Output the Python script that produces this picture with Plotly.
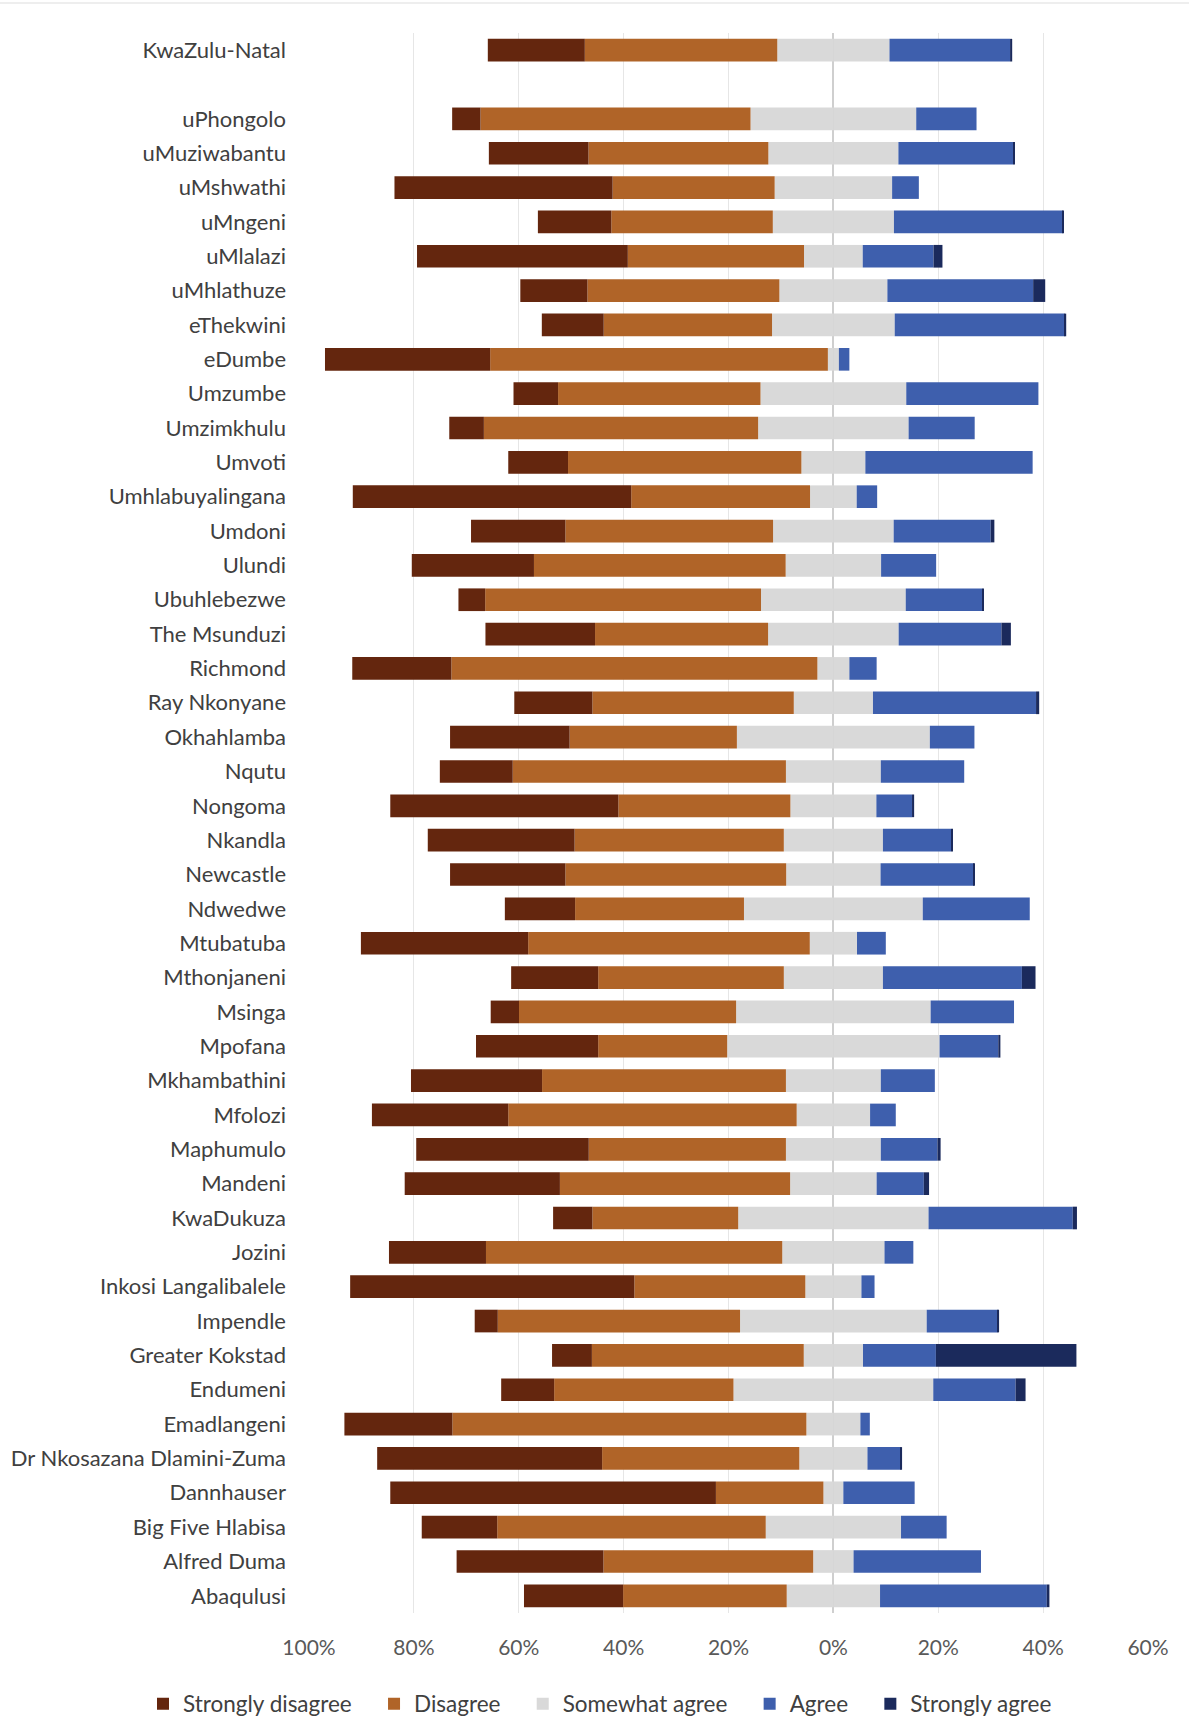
import plotly.graph_objects as go

# Municipalities, listed top to bottom (" " is the spacer row under the provincial total)
areas = [
    "KwaZulu-Natal", " ",
    "uPhongolo", "uMuziwabantu", "uMshwathi", "uMngeni", "uMlalazi", "uMhlathuze",
    "eThekwini", "eDumbe", "Umzumbe", "Umzimkhulu", "Umvoti", "Umhlabuyalingana",
    "Umdoni", "Ulundi", "Ubuhlebezwe", "The Msunduzi", "Richmond", "Ray Nkonyane",
    "Okhahlamba", "Nqutu", "Nongoma", "Nkandla", "Newcastle", "Ndwedwe",
    "Mtubatuba", "Mthonjaneni", "Msinga", "Mpofana", "Mkhambathini", "Mfolozi",
    "Maphumulo", "Mandeni", "KwaDukuza", "Jozini", "Inkosi Langalibalele",
    "Impendle", "Greater Kokstad", "Endumeni", "Emadlangeni",
    "Dr Nkosazana Dlamini-Zuma", "Dannhauser", "Big Five Hlabisa", "Alfred Duma",
    "Abaqulusi",
]

# Response shares (%), same order as areas
strongly_disagree = [
    18.5, None,
    5.4, 19.0, 41.6, 14.0, 40.2, 12.8, 11.8, 31.5, 8.5, 6.6, 11.4, 53.1,
    18.0, 23.3, 5.1, 20.9, 18.9, 14.9, 22.8, 13.9, 43.5, 28.0, 22.0, 13.4,
    31.9, 16.6, 5.4, 23.3, 25.0, 26.0, 32.9, 29.6, 7.5, 18.5, 54.2,
    4.4, 7.6, 10.1, 20.6, 42.9, 62.1, 14.4, 28.0, 18.9,
]
disagree = [
    36.7, None,
    51.5, 34.3, 30.9, 30.8, 33.6, 36.6, 32.1, 64.4, 38.6, 52.3, 44.5, 34.1,
    39.6, 48.0, 52.6, 33.0, 69.8, 38.4, 31.9, 52.1, 32.8, 39.9, 42.1, 32.2,
    53.7, 35.4, 41.4, 24.6, 46.5, 55.0, 37.6, 43.9, 27.8, 56.5, 32.6,
    46.2, 40.4, 34.2, 67.5, 37.6, 20.5, 51.2, 40.0, 31.2,
]
somewhat_agree = [
    21.4, None,
    31.6, 24.8, 22.4, 23.1, 11.2, 20.6, 23.4, 2.1, 27.8, 28.7, 12.2, 8.9,
    23.0, 18.2, 27.6, 24.9, 6.1, 15.1, 36.8, 18.1, 16.4, 18.9, 18.0, 34.1,
    9.0, 18.9, 37.1, 40.5, 18.1, 14.0, 18.1, 16.5, 36.3, 19.5, 10.7,
    35.6, 11.3, 38.1, 10.3, 13.0, 3.8, 25.8, 7.7, 17.8,
]
agree = [
    23.0, None,
    11.5, 21.9, 5.1, 32.2, 13.5, 27.8, 32.4, 2.0, 25.2, 12.6, 31.9, 3.9,
    18.5, 10.5, 14.6, 19.6, 5.2, 31.1, 8.5, 15.9, 6.8, 13.0, 17.8, 20.4,
    5.5, 26.5, 15.9, 11.2, 10.3, 4.9, 10.8, 9.0, 27.5, 5.5, 2.5,
    13.5, 13.9, 15.7, 1.8, 6.3, 13.6, 8.7, 24.3, 31.8,
]
strongly_agree = [
    0.4, None,
    0.0, 0.2, 0.0, 0.1, 1.7, 2.3, 0.3, 0.0, 0.0, 0.0, 0.0, 0.0,
    0.7, 0.0, 0.2, 1.8, 0.0, 0.6, 0.0, 0.0, 0.4, 0.2, 0.2, 0.0,
    0.0, 2.6, 0.0, 0.4, 0.0, 0.0, 0.6, 1.0, 0.8, 0.0, 0.0,
    0.3, 26.8, 1.9, 0.0, 0.3, 0.0, 0.0, 0.0, 0.5,
]

tick_vals = [-100, -80, -60, -40, -20, 0, 20, 40, 60]
tick_text = ["100%", "80%", "60%", "40%", "20%", "0%", "20%", "40%", "60%"]

colors = {
    "sd": "#64260E",
    "d": "#B06428",
    "s": "#D9D9D9",
    "a": "#3E5FAD",
    "sa": "#1B2A5C",
}

# extra room after each legend entry
pad = "\u00a0" * 3

# plot-area geometry in pixels
W, H = 1189, 1717
ML, MR, MT, MB = 309, 41, 33, 104
PW, PH = W - ML - MR, H - MT - MB


def neg(vals):
    return [None if v is None else -v for v in vals]


def half(vals, sign):
    return [None if v is None else sign * v / 2 for v in vals]


fig = go.Figure()

# Left side: half of the neutral share, then disagreement stacked outward from 0
fig.add_trace(go.Bar(y=areas, x=half(somewhat_agree, -1), orientation="h",
                     marker_color=colors["s"], name="Somewhat agree" + pad,
                     legendgroup="s", showlegend=False))
fig.add_trace(go.Bar(y=areas, x=neg(disagree), orientation="h",
                     marker_color=colors["d"], name="Disagree" + pad, legendrank=2))
fig.add_trace(go.Bar(y=areas, x=neg(strongly_disagree), orientation="h",
                     marker_color=colors["sd"], name="Strongly disagree" + pad, legendrank=1))
# Right side: other half of the neutral share, then agreement
fig.add_trace(go.Bar(y=areas, x=half(somewhat_agree, 1), orientation="h",
                     marker_color=colors["s"], name="Somewhat agree" + pad,
                     legendgroup="s", legendrank=3))
fig.add_trace(go.Bar(y=areas, x=agree, orientation="h",
                     marker_color=colors["a"], name="Agree" + pad, legendrank=4))
fig.add_trace(go.Bar(y=areas, x=strongly_agree, orientation="h",
                     marker_color=colors["sa"], name="Strongly agree", legendrank=5))

fig.update_traces(marker_line_width=0)

font_family = "Lato, 'Open Sans', sans-serif"

fig.update_layout(
    width=W,
    height=H,
    barmode="relative",
    bargap=0.34,
    plot_bgcolor="white",
    paper_bgcolor="white",
    margin=dict(l=ML, r=MR, t=MT, b=MB, autoexpand=False),
    font=dict(family=font_family, color="#404040"),
    showlegend=True,
    legend=dict(
        orientation="h",
        xref="paper", yref="paper",
        x=(143 - ML) / PW, xanchor="left",
        y=-(1704 - (H - MB)) / PH, yanchor="middle",
        font=dict(size=22.5, color="#404040"),
        traceorder="normal",
        itemwidth=30,
    ),
    xaxis=dict(
        range=[-100, 60],
        tickvals=tick_vals,
        ticktext=tick_text,
        showgrid=True,
        gridcolor="#E6E6E6",
        gridwidth=1,
        zeroline=True,
        zerolinecolor="#CFCFCF",
        zerolinewidth=2,
        showline=False,
        ticks="",
        ticklabelstandoff=20,
        tickfont=dict(size=21, color="#595959"),
    ),
    yaxis=dict(
        categoryorder="array",
        categoryarray=areas,
        range=[len(areas) - 0.5, -0.5],
        showgrid=False,
        zeroline=False,
        showline=False,
        ticks="",
        ticklabelstandoff=22,
        tickfont=dict(size=22, color="#404040"),
    ),
    shapes=[
        # thin rule along the top edge of the figure
        dict(type="line", xref="paper", yref="paper",
             x0=-ML / PW, x1=1 + MR / PW,
             y0=1 + 30 / PH, y1=1 + 30 / PH,
             line=dict(color="#DDDDDD", width=1)),
    ],
)

fig.write_html("out.html")
